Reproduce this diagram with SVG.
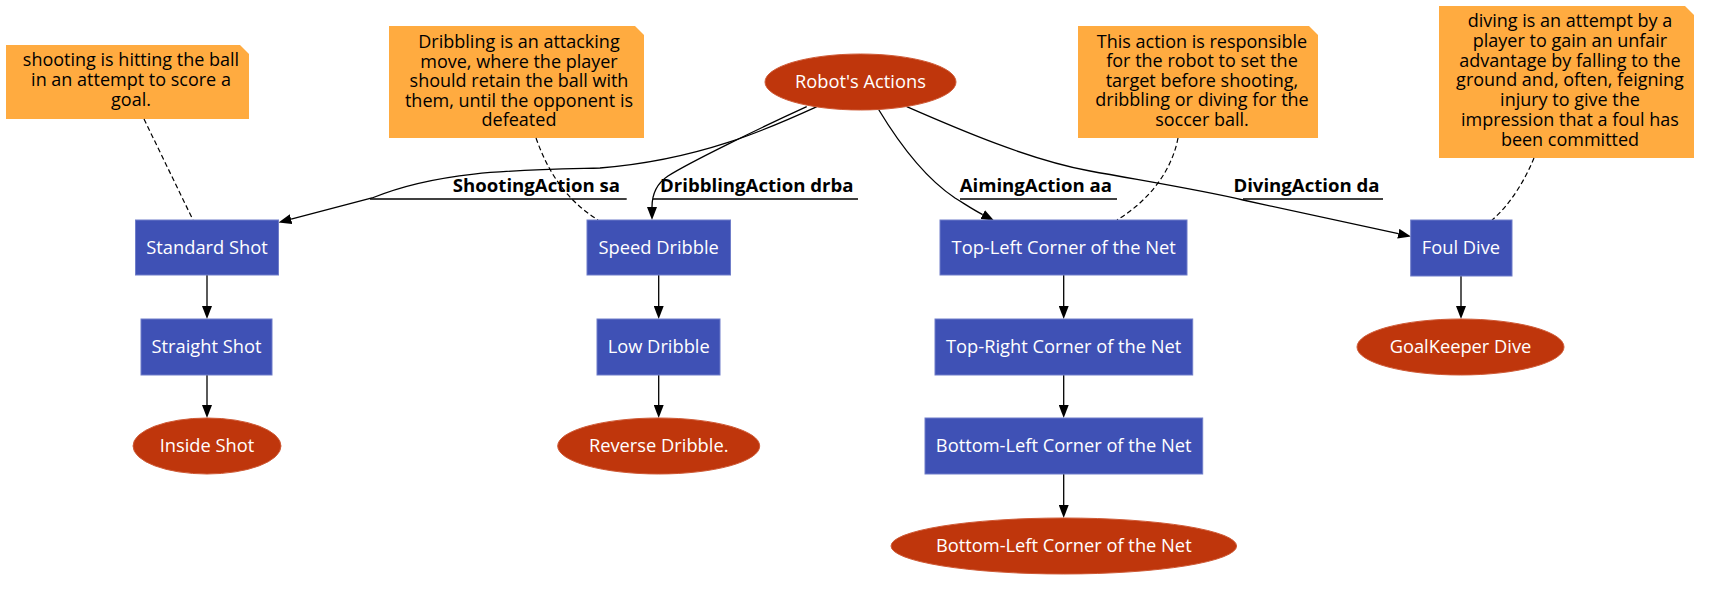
<svg xmlns="http://www.w3.org/2000/svg" width="1714" height="594" viewBox="0 0 1714 594">
<style>
.box{fill:#3F51B5;stroke:#6f7dc9;stroke-width:1}
.ell{fill:#BF360C;stroke:#cf5a36;stroke-width:1}
.note{fill:#FFAB40;stroke:none}
.nt{font-family:"Open Sans","Noto Sans","Liberation Sans",sans-serif;font-size:18.3px;fill:#ffffff;text-anchor:middle}
.tt{font-family:"Open Sans","Noto Sans","Liberation Sans",sans-serif;font-size:18px;fill:#000000;text-anchor:middle}
.lb{font-family:"Open Sans","Noto Sans","Liberation Sans",sans-serif;font-size:18.6px;font-weight:bold;fill:#000000;text-anchor:end}
.e{fill:none;stroke:#000;stroke-width:1.3;marker-end:url(#ah)}
.ul{fill:none;stroke:#000;stroke-width:1.3}
.d{fill:none;stroke:#000;stroke-width:1.2;stroke-dasharray:5,3}
</style>
<defs>
<marker id="ah" markerUnits="userSpaceOnUse" markerWidth="13" markerHeight="10" viewBox="0 0 13 10" refX="0" refY="5" orient="auto">
<path d="M0,0 L13,5 L0,10 z" fill="#000"/>
</marker>
</defs>
<rect width="1714" height="594" fill="#ffffff"/>

<g id="notes">
<g id="note_shoot">
<polygon class="note" points="6,45 240,45 249,54 249,119 6,119"/>
<text class="tt" x="131" y="66">shooting is hitting the ball</text>
<text class="tt" x="131" y="86">in an attempt to score a</text>
<text class="tt" x="131" y="106">goal.</text>
</g>
<g id="note_dribble">
<polygon class="note" points="389,26 635,26 644,35 644,138 389,138"/>
<text class="tt" x="519" y="48">Dribbling is an attacking</text>
<text class="tt" x="519" y="67.5">move, where the player</text>
<text class="tt" x="519" y="87">should retain the ball with</text>
<text class="tt" x="519" y="106.5">them, until the opponent is</text>
<text class="tt" x="519" y="126">defeated</text>
</g>
<g id="note_aim">
<polygon class="note" points="1078,26 1309,26 1318,35 1318,138 1078,138"/>
<text class="tt" x="1202" y="47.5">This action is responsible</text>
<text class="tt" x="1202" y="67">for the robot to set the</text>
<text class="tt" x="1202" y="86.5">target before shooting,</text>
<text class="tt" x="1202" y="106">dribbling or diving for the</text>
<text class="tt" x="1202" y="125.5">soccer ball.</text>
</g>
<g id="note_dive">
<polygon class="note" points="1439,6 1685,6 1694,15 1694,158 1439,158"/>
<text class="tt" x="1570" y="27">diving is an attempt by a</text>
<text class="tt" x="1570" y="46.8">player to gain an unfair</text>
<text class="tt" x="1570" y="66.6">advantage by falling to the</text>
<text class="tt" x="1570" y="86.4">ground and, often, feigning</text>
<text class="tt" x="1570" y="106.2">injury to give the</text>
<text class="tt" x="1570" y="126">impression that a foul has</text>
<text class="tt" x="1570" y="145.8">been committed</text>
</g>
</g>

<g id="connectors">
<path class="d" d="M144,119 L193,220"/>
<path class="d" d="M536,138 C548,172 566,200 598,220"/>
<path class="d" d="M1178,138 C1172,170 1150,200 1117,220"/>
<path class="d" d="M1534,158 C1525,180 1510,205 1492,220"/>

<path class="e" d="M816.7,106.7 C770,128 700,160 600,168 C520,170 440,170 372,198 L291.1,219.2"/>
<path class="e" d="M806.7,106.7 C760,128 690,162 668,176 C656,184 652,194 652,207"/>
<path class="e" d="M878.3,109 C900,145 925,178 955,198 C965,204 972,209 982.7,214.6"/>
<path class="e" d="M906.7,106.7 C960,130 1030,160 1090,171 C1150,182 1200,190 1243,200 L1398.3,233.7"/>

<path class="ul" d="M370,199 L626.7,199"/>
<path class="ul" d="M653,199 L858,199"/>
<path class="ul" d="M960,199 L1117,199"/>
<path class="ul" d="M1243,199 L1383,199"/>
<text class="lb" x="620" y="192">ShootingAction sa</text>
<text class="lb" x="853.5" y="192">DribblingAction drba</text>
<text class="lb" x="1112" y="192">AimingAction aa</text>
<text class="lb" x="1379.5" y="192">DivingAction da</text>

<path class="e" d="M207,275 L207,306"/>
<path class="e" d="M207,375 L207,405"/>
<path class="e" d="M658.7,275 L658.7,306"/>
<path class="e" d="M658.7,375 L658.7,405"/>
<path class="e" d="M1063.7,275 L1063.7,306"/>
<path class="e" d="M1063.7,375 L1063.7,405"/>
<path class="e" d="M1063.7,474 L1063.7,505"/>
<path class="e" d="M1461,276 L1461,306"/>
</g>

<g id="robot_actions">
<ellipse class="ell" cx="860.5" cy="82" rx="95.5" ry="28"/>
<text class="nt" x="860.5" y="88">Robot's Actions</text>
</g>
<g id="standard_shot">
<rect class="box" x="135.5" y="220" width="143" height="55"/>
<text class="nt" x="207" y="253.5">Standard Shot</text>
</g>
<g id="straight_shot">
<rect class="box" x="141" y="319" width="131" height="56"/>
<text class="nt" x="206.5" y="353">Straight Shot</text>
</g>
<g id="inside_shot">
<ellipse class="ell" cx="207" cy="446" rx="74" ry="28"/>
<text class="nt" x="207" y="452">Inside Shot</text>
</g>
<g id="speed_dribble">
<rect class="box" x="587" y="220" width="143.5" height="55"/>
<text class="nt" x="658.7" y="253.5">Speed Dribble</text>
</g>
<g id="low_dribble">
<rect class="box" x="597" y="319" width="123" height="56"/>
<text class="nt" x="658.7" y="353">Low Dribble</text>
</g>
<g id="reverse_dribble">
<ellipse class="ell" cx="658.7" cy="446" rx="101" ry="28"/>
<text class="nt" x="658.7" y="452">Reverse Dribble.</text>
</g>
<g id="top_left">
<rect class="box" x="940" y="220" width="247" height="55"/>
<text class="nt" x="1063.7" y="253.5">Top-Left Corner of the Net</text>
</g>
<g id="top_right">
<rect class="box" x="935" y="319" width="257.7" height="56"/>
<text class="nt" x="1063.7" y="353">Top-Right Corner of the Net</text>
</g>
<g id="bottom_left_box">
<rect class="box" x="925" y="418" width="277.7" height="56"/>
<text class="nt" x="1063.7" y="452">Bottom-Left Corner of the Net</text>
</g>
<g id="bottom_left_end">
<ellipse class="ell" cx="1063.8" cy="546" rx="172.8" ry="28"/>
<text class="nt" x="1063.8" y="552">Bottom-Left Corner of the Net</text>
</g>
<g id="foul_dive">
<rect class="box" x="1410.7" y="220" width="101.3" height="56"/>
<text class="nt" x="1461" y="254">Foul Dive</text>
</g>
<g id="goalkeeper_dive">
<ellipse class="ell" cx="1460.5" cy="347" rx="103.5" ry="28"/>
<text class="nt" x="1460.5" y="353">GoalKeeper Dive</text>
</g>
</svg>
